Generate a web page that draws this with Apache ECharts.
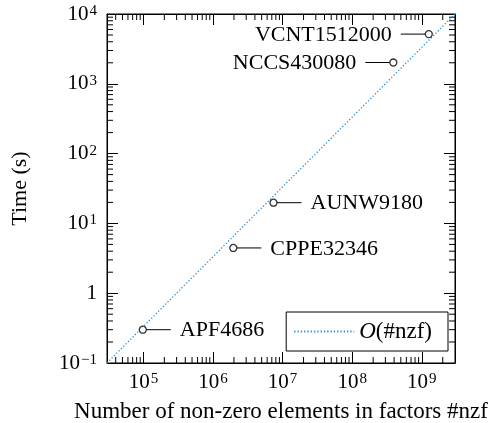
<!DOCTYPE html>
<html>
<head>
<meta charset="utf-8">
<script src="https://cdn.jsdelivr.net/npm/echarts@6/dist/echarts.min.js"></script>
<style>html,body{margin:0;padding:0;background:#fff;}#c{width:495px;height:423px;}</style>
</head>
<body>
<div id="c"></div>
<script>
// ---- data ----
const pointNames = ['APF4686', 'CPPE32346', 'AUNW9180', 'NCCS430080', 'VCNT1512000'];
const pointNzf = [9.8e4, 1.96e6, 7.4e6, 3.9e8, 1.26e9];
const pointTime = [0.30, 4.45, 19.8, 2020, 5150];
const labelSides = ['right', 'right', 'right', 'left', 'left'];
const refNzf = [3e4, 3e9];
const refTime = [0.1, 1e4];
const refName = 'O(#nzf)';
const xTickValues = [1e5, 1e6, 1e7, 1e8, 1e9];
const xTickLabels = ['10{s|5}', '10{s|6}', '10{s|7}', '10{s|8}', '10{s|9}'];
const yTickValues = [0.1, 1, 10, 100, 1000, 10000];
const yTickLabels = ['10{s|\u22121}', '1', '10{s|1}', '10{s|2}', '10{s|3}', '10{s|4}'];
const xName = 'Number of non-zero elements in factors #nzf';
const yName = 'Time (s)';

const X_MIN = 3e4, X_MAX = 3e9, Y_MIN = 0.1, Y_MAX = 1e4;
const FONT = 'Liberation Serif';
const FS = 22;
const LINE_COLOR = '#2b8fd6';

function minorTicks(lo, hi) {
  const out = [];
  for (let e = Math.floor(Math.log10(lo)); e <= Math.ceil(Math.log10(hi)); e++) {
    for (let m = 2; m <= 9; m++) {
      const v = m * Math.pow(10, e);
      if (v > lo * 1.0001 && v < hi * 0.9999) out.push(v);
    }
  }
  return out;
}
const xMinor = minorTicks(X_MIN, X_MAX);
const yMinor = minorTicks(Y_MIN, Y_MAX);

function labelFor(values, labels) {
  return function (v) {
    for (let i = 0; i < values.length; i++) {
      if (Math.abs(Math.log10(v) - Math.log10(values[i])) < 1e-6) return labels[i];
    }
    return '';
  };
}
const rich = {
  s: { fontFamily: FONT, fontSize: 15, color: '#000', verticalAlign: 'top', lineHeight: 15, padding: [0, 0, 0, 1] }
};

const chart = echarts.init(document.getElementById('c'), null, { renderer: 'canvas' });
const tickLen = 11, minorLen = 6;

function baseAxis(extra) {
  return Object.assign({
    type: 'log', logBase: 10,
    axisLine: { show: true, lineStyle: { color: '#000', width: 1 } },
    axisTick: { show: true, inside: true, length: tickLen, lineStyle: { color: '#000', width: 1 } },
    splitLine: { show: false },
    minorTick: { show: false },
  }, extra);
}

chart.setOption({
  animation: false,
  backgroundColor: '#fff',
  grid: { left: 107, right: 40, top: 14, bottom: 60, containLabel: false, outerBoundsMode: 'none',
    show: true, borderColor: '#000', borderWidth: 1, backgroundColor: 'transparent' },
  xAxis: [
    baseAxis({
      position: 'bottom', min: X_MIN, max: X_MAX,
      name: xName, nameLocation: 'middle', nameGap: 37,
      nameTextStyle: { fontFamily: FONT, fontSize: 23, color: '#000' },
      axisLabel: { show: true, margin: 9, showMinLabel: false, showMaxLabel: false, formatter: labelFor(xTickValues, xTickLabels),
        fontFamily: FONT, fontSize: 21, color: '#000', rich: rich }
    }),
    baseAxis({ position: 'top', min: X_MIN, max: X_MAX, axisLabel: { show: false } })
  ],
  yAxis: [
    baseAxis({
      position: 'left', min: Y_MIN, max: Y_MAX,
      name: yName, nameLocation: 'middle', nameGap: 76, nameRotate: 90,
      nameTextStyle: { fontFamily: FONT, fontSize: FS, color: '#000' },
      axisLabel: { show: true, margin: 10, formatter: labelFor(yTickValues, yTickLabels),
        fontFamily: FONT, fontSize: 21, color: '#000', rich: rich }
    }),
    baseAxis({ position: 'right', min: Y_MIN, max: Y_MAX, axisLabel: { show: false } })
  ],
  legend: {
    data: [refName], right: 47, bottom: 72, orient: 'horizontal',
    itemWidth: 60, itemHeight: 14, padding: [8, 16, 8, 7],
    backgroundColor: '#fff', borderColor: '#000', borderWidth: 1, borderRadius: 0,
    selectedMode: false,
    itemStyle: { color: 'rgba(0,0,0,0)', borderColor: 'rgba(0,0,0,0)', borderWidth: 0, opacity: 0 },
    formatter: function () { return '{i|O}(#nzf)'; },
    textStyle: { fontFamily: FONT, fontSize: 23, color: '#000',
      rich: { i: { fontFamily: FONT, fontSize: 23, fontStyle: 'italic', color: '#000' } } }
  },
  series: [
    {
      type: 'custom', name: 'xminor', silent: true, xAxisIndex: 0, yAxisIndex: 0,
      data: xMinor.map(v => [v, Y_MIN]),
      renderItem: function (params, api) {
        const v = api.value(0);
        const b = api.coord([v, Y_MIN]);
        const t = api.coord([v, Y_MAX]);
        return { type: 'group', children: [
          { type: 'line', shape: { x1: b[0], y1: b[1], x2: b[0], y2: b[1] - minorLen }, style: { stroke: '#000', lineWidth: 1 } },
          { type: 'line', shape: { x1: t[0], y1: t[1], x2: t[0], y2: t[1] + minorLen }, style: { stroke: '#000', lineWidth: 1 } }
        ] };
      }
    },
    {
      type: 'custom', name: 'yminor', silent: true, xAxisIndex: 0, yAxisIndex: 0,
      data: yMinor.map(v => [X_MIN, v]),
      renderItem: function (params, api) {
        const v = api.value(1);
        const l = api.coord([X_MIN, v]);
        const r = api.coord([X_MAX, v]);
        return { type: 'group', children: [
          { type: 'line', shape: { x1: l[0], y1: l[1], x2: l[0] + minorLen, y2: l[1] }, style: { stroke: '#000', lineWidth: 1 } },
          { type: 'line', shape: { x1: r[0], y1: r[1], x2: r[0] - minorLen, y2: r[1] }, style: { stroke: '#000', lineWidth: 1 } }
        ] };
      }
    },
    {
      type: 'line', name: refName, xAxisIndex: 0, yAxisIndex: 0,
      data: refNzf.map((x, i) => [x, refTime[i]]),
      symbol: 'none', showSymbol: false, silent: true,
      lineStyle: { color: LINE_COLOR, width: 1.3, type: [1.3, 2] },
      itemStyle: { color: LINE_COLOR },
      z: 3
    },
    {
      type: 'custom', name: 'labels', silent: true, xAxisIndex: 0, yAxisIndex: 0,
      data: pointNzf.map((x, i) => [x, pointTime[i]]),
      renderItem: function (params, api) {
        const i = params.dataIndex;
        const p = api.coord([api.value(0), api.value(1)]);
        const s = labelSides[i] === 'left' ? -1 : 1;
        return { type: 'group', children: [
          { type: 'line', shape: { x1: p[0] + s * 3.5, y1: p[1], x2: p[0] + s * 28, y2: p[1] }, style: { stroke: '#000', lineWidth: 1 } },
          { type: 'text', style: { text: pointNames[i], x: p[0] + s * 37, y: p[1] + 1, align: s < 0 ? 'right' : 'left', verticalAlign: 'middle',
            fontFamily: FONT, fontSize: FS, fill: '#000' } }
        ] };
      },
      z: 4
    },
    {
      type: 'scatter', name: 'points', xAxisIndex: 0, yAxisIndex: 0,
      data: pointNzf.map((x, i) => [x, pointTime[i]]),
      symbol: 'circle', symbolSize: 7, silent: true,
      itemStyle: { color: '#fff', borderColor: '#000', borderWidth: 1.3 },
      z: 5
    }
  ]
});
</script>
</body>
</html>
